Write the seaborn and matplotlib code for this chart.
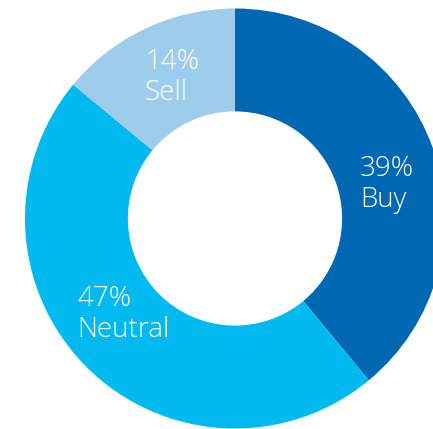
import matplotlib
matplotlib.use('Agg')
import matplotlib.pyplot as plt
import numpy as np
import seaborn as sns

labels = ['Buy', 'Neutral', 'Sell']
shares = [39, 47, 14]
colors = ['#0067b3', '#00b9ef', '#9ecdeb']

sns.set_theme(style='white')
plt.rcParams['font.family'] = ['Open Sans', 'DejaVu Sans']

fig = plt.figure(figsize=(4.33, 4.29), dpi=100)
ax = fig.add_axes([0, 0, 1, 1])

# donut centre sits at (235, 218.5) px, radius ~210 px
R = 210.0
cx, cy = 235.0, 218.5
ax.pie(shares, colors=colors, startangle=90, counterclock=False,
       radius=1.0, wedgeprops=dict(width=0.49, linewidth=0))

ax.set_xlim(-cx / R, (433 - cx) / R)
ax.set_ylim(-(429 - cy) / R, cy / R)
ax.set_aspect('auto')
ax.axis('off')

# label anchors: left edge and baseline of the second line, in pixels
anchors = {'Buy': (360, 207), 'Neutral': (77, 337), 'Sell': (145, 100)}
for lab, val in zip(labels, shares):
    px, py = anchors[lab]
    ax.text((px - cx) / R, (cy - py) / R, f'{val}%\n{lab}',
            ha='left', va='baseline', color='white', fontsize=20,
            fontweight='light', linespacing=1.12)

fig.savefig('out.png', dpi=100)
